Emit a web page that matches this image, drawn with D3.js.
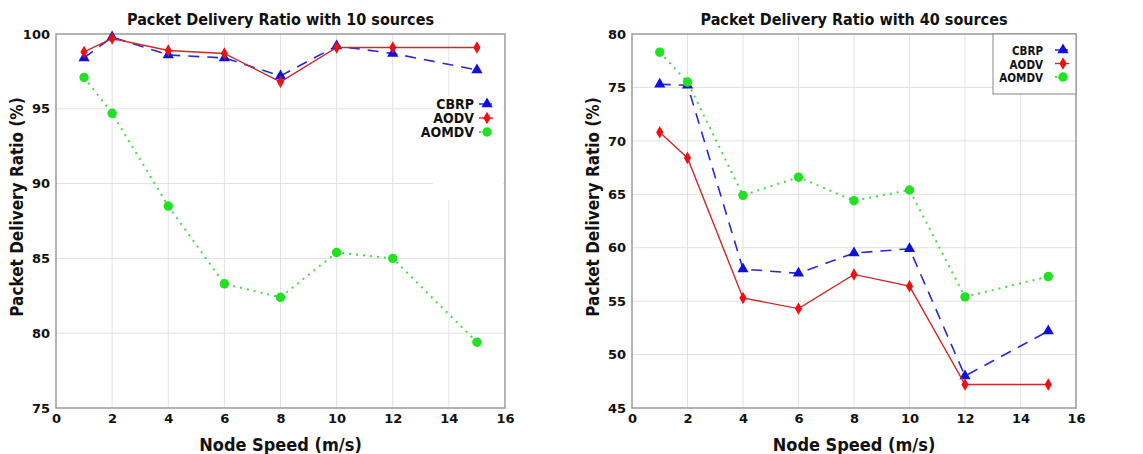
<!DOCTYPE html>
<html>
<head>
<meta charset="utf-8">
<script src="https://cdn.jsdelivr.net/npm/d3@7"></script>
<style>
  body { margin: 0; background: #fff; }
  text { font-family: "DejaVu Sans", Verdana, sans-serif; font-weight: bold; fill: #111; }
  text.cond { font-family: "DejaVu Sans Condensed", "DejaVu Sans", sans-serif; font-stretch: condensed; }
</style>
</head>
<body>
<div id="chart"></div>
<script>
// Data
var speeds = [1, 2, 4, 6, 8, 10, 12, 15];
var seriesNames = ["CBRP", "AODV", "AOMDV"];

var cbrp10  = [98.4, 99.8, 98.6, 98.4, 97.2, 99.2, 98.7, 97.6];
var aodv10  = [98.8, 99.7, 98.9, 98.7, 96.8, 99.1, 99.1, 99.1];
var aomdv10 = [97.1, 94.7, 88.5, 83.3, 82.4, 85.4, 85.0, 79.4];

var cbrp40  = [75.3, 75.2, 58.0, 57.6, 59.5, 59.9, 48.0, 52.2];
var aodv40  = [70.8, 68.4, 55.3, 54.3, 57.5, 56.4, 47.2, 47.2];
var aomdv40 = [78.3, 75.5, 64.9, 66.6, 64.4, 65.4, 55.4, 57.3];

var xTicks = [0, 2, 4, 6, 8, 10, 12, 14, 16];
var yTicks10 = [75, 80, 85, 90, 95, 100];
var yTicks40 = [45, 50, 55, 60, 65, 70, 75, 80];

var svg = d3.select("#chart").append("svg")
    .attr("width", 1143)
    .attr("height", 454);

// line + marker styles per series
var styles = {
  CBRP:  { line: "#2a2acc", marker: "#1010dd", dash: "11,8", width: 1.6, shape: d3.symbolTriangle, size: 55 },
  AODV:  { line: "#d02828", marker: "#ee1010", dash: null,   width: 1.4, shape: d3.symbolDiamond,  size: 45 },
  AOMDV: { line: "#44dd44", marker: "#22e022", dash: "2,5",  width: 2,   shape: d3.symbolCircle,   size: 70 }
};

function drawChart(opt) {
  var g = svg.append("g");
  var x = d3.scaleLinear().domain([0, 16]).range([opt.left, opt.right]);
  var y = d3.scaleLinear().domain(opt.yDomain).range([408, 34]);

  // grid
  g.append("g").selectAll("line.gx")
    .data(xTicks.slice(1, -1)).enter().append("line")
    .attr("x1", function(d) { return x(d); }).attr("x2", function(d) { return x(d); })
    .attr("y1", y.range()[1]).attr("y2", y.range()[0])
    .attr("stroke", "#e2e2e2").attr("stroke-width", 1);
  g.append("g").selectAll("line.gy")
    .data(opt.yTicks.slice(1, -1)).enter().append("line")
    .attr("x1", opt.left).attr("x2", opt.right)
    .attr("y1", function(d) { return y(d); }).attr("y2", function(d) { return y(d); })
    .attr("stroke", "#e2e2e2").attr("stroke-width", 1);

  // left legend box hides the grid underneath (no border)
  if (opt.legendBox === "plain") {
    g.append("rect")
      .attr("x", opt.right - 72).attr("y", 96)
      .attr("width", 70).attr("height", 104)
      .attr("fill", "#fff");
  }

  // axes
  var xAxis = g.append("g")
    .attr("transform", "translate(0,408)")
    .call(d3.axisBottom(x).tickValues(xTicks).tickSize(0).tickPadding(6));
  xAxis.select(".domain").remove();
  xAxis.selectAll("text").style("font-size", "13px").attr("fill", "#111");

  var yAxis = g.append("g")
    .attr("transform", "translate(" + opt.left + ",0)")
    .call(d3.axisLeft(y).tickValues(opt.yTicks).tickSize(0).tickPadding(6));
  yAxis.select(".domain").remove();
  yAxis.selectAll("text").style("font-size", "13px").attr("fill", "#111");

  // frame
  g.append("rect")
    .attr("x", opt.left).attr("y", 34)
    .attr("width", opt.right - opt.left).attr("height", 374)
    .attr("fill", "none").attr("stroke", "#9a9a9a").attr("stroke-width", 1.5);

  // series
  opt.series.forEach(function(vals, i) {
    var name = seriesNames[i];
    var st = styles[name];
    var pts = speeds.map(function(s, j) { return [s, vals[j]]; });
    var line = d3.line()
      .x(function(d) { return x(d[0]); })
      .y(function(d) { return y(d[1]); });
    g.append("path")
      .datum(pts)
      .attr("d", line)
      .attr("fill", "none")
      .attr("stroke", st.line)
      .attr("stroke-width", st.width)
      .attr("stroke-dasharray", st.dash);
    g.selectAll(".m" + name)
      .data(pts).enter().append("path")
      .attr("transform", function(d) { return "translate(" + x(d[0]) + "," + y(d[1]) + ")"; })
      .attr("d", d3.symbol().type(st.shape).size(st.size))
      .attr("fill", st.marker);
  });

  // legend
  if (opt.legendBox === "framed") {
    g.append("rect")
      .attr("x", opt.right - 83).attr("y", 34)
      .attr("width", 83).attr("height", 60)
      .attr("fill", "#fff").attr("stroke", "#888").attr("stroke-width", 1);
  }
  seriesNames.forEach(function(name, i) {
    var st = styles[name];
    var ly = opt.legendY + i * opt.legendStep;
    g.append("text")
      .attr("class", "cond")
      .attr("x", opt.right - opt.legendText).attr("y", ly + 5)
      .attr("text-anchor", "end")
      .style("font-size", opt.legendFont + "px")
      .text(name);
    g.append("line")
      .attr("x1", opt.right - opt.legendMark - 8).attr("x2", opt.right - opt.legendMark + 6)
      .attr("y1", ly).attr("y2", ly)
      .attr("stroke", st.line).attr("stroke-width", st.width)
      .attr("stroke-dasharray", name === "CBRP" ? "5,3" : st.dash);
    g.append("path")
      .attr("transform", "translate(" + (opt.right - opt.legendMark) + "," + ly + ")")
      .attr("d", d3.symbol().type(st.shape).size(st.size))
      .attr("fill", st.marker);
  });

  // titles
  g.append("text")
    .attr("class", "cond")
    .attr("x", (opt.left + opt.right) / 2).attr("y", 25)
    .attr("text-anchor", "middle")
    .style("font-size", "16px")
    .text(opt.title);
  g.append("text")
    .attr("class", "cond")
    .attr("x", (opt.left + opt.right) / 2).attr("y", 451)
    .attr("text-anchor", "middle")
    .style("font-size", "18px")
    .text("Node Speed (m/s)");
  g.append("text")
    .attr("class", "cond")
    .attr("transform", "translate(" + (opt.left - 33) + ",207) rotate(-90)")
    .attr("text-anchor", "middle")
    .style("font-size", "17px")
    .text("Packet Delivery Ratio (%)");
}

drawChart({
  left: 56, right: 505,
  yDomain: [75, 100], yTicks: yTicks10,
  series: [cbrp10, aodv10, aomdv10],
  title: "Packet Delivery Ratio with 10 sources",
  legendBox: "plain", legendY: 104, legendStep: 14,
  legendText: 31, legendMark: 18, legendFont: 14
});

drawChart({
  left: 632, right: 1076,
  yDomain: [45, 80], yTicks: yTicks40,
  series: [cbrp40, aodv40, aomdv40],
  title: "Packet Delivery Ratio with 40 sources",
  legendBox: "framed", legendY: 50, legendStep: 13.5,
  legendText: 33, legendMark: 13, legendFont: 11.5
});
</script>
</body>
</html>
